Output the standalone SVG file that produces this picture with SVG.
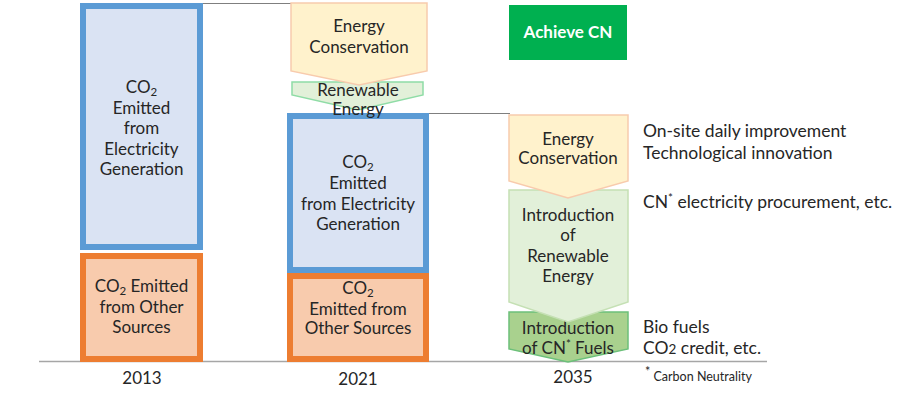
<svg xmlns="http://www.w3.org/2000/svg" width="900" height="398" viewBox="0 0 900 398">
<style>
text{font-family:Lato,"Liberation Sans",sans-serif;fill:#262626;font-size:17px;text-anchor:middle}
.l{text-anchor:start;font-size:17.5px}
.elec{fill:#dae3f3;stroke:#5b9bd5;stroke-width:6}
.oth{fill:#f8cbad;stroke:#ed7d31;stroke-width:6}
.cons{fill:#fff2cc;stroke:#f8cbad;stroke-width:1.5}
.ren{fill:#e2f0d9;stroke:#c5e0b4;stroke-width:1.5}
.ren2{fill:#e2f0d9;stroke:#8fdca6;stroke-width:1.5}
.fuel{fill:#a9d18e;stroke:#6cc07a;stroke-width:1.5}
.guide{stroke:#7f7f7f;stroke-width:1;fill:none}
.sub{font-size:11.5px}
</style>
<g id="connectors">
<line class="guide" x1="203" y1="3.5" x2="292" y2="3.5"/>
<line class="guide" x1="429" y1="113.5" x2="510" y2="113.5"/>
<line x1="39" y1="361.5" x2="767" y2="361.5" stroke="#a6a6a6" stroke-width="1.5"/>
</g>
<g id="bar2013-elec">
<rect class="elec" x="83" y="6" width="117" height="241"/>
<text x="141.5" y="93">CO<tspan class="sub" dy="3">2</tspan></text>
<text x="141.5" y="114">Emitted</text>
<text x="141.5" y="134">from</text>
<text x="141.5" y="155">Electricity</text>
<text x="141.5" y="175">Generation</text>
</g>
<g id="bar2013-other">
<rect class="oth" x="83" y="256" width="117" height="103"/>
<text x="141.5" y="292">CO<tspan class="sub" dy="3">2</tspan><tspan dy="-3"> Emitted</tspan></text>
<text x="141.5" y="313">from Other</text>
<text x="141.5" y="333">Sources</text>
</g>
<g id="label2013"><text x="142" y="384">2013</text></g>
<g id="bar2021-elec">
<rect class="elec" x="290" y="116" width="136" height="154"/>
<text x="358" y="168">CO<tspan class="sub" dy="3">2</tspan></text>
<text x="358" y="189">Emitted</text>
<text x="358" y="210">from Electricity</text>
<text x="358" y="230">Generation</text>
</g>
<g id="bar2021-other">
<rect class="oth" x="290" y="276" width="136" height="83"/>
<text x="358" y="294">CO<tspan class="sub" dy="3">2</tspan></text>
<text x="358" y="315">Emitted from</text>
<text x="358" y="334">Other Sources</text>
</g>
<g id="label2021"><text x="358" y="385">2021</text></g>
<g id="ren2021">
<polygon class="ren2" points="292,82 423,82 423,95 358,110 292,95"/>
<text x="358" y="96">Renewable</text>
<text x="358" y="115">Energy</text>
</g>
<g id="cons2021">
<polygon class="cons" points="291,3 427,3 427,71 359,85 291,71"/>
<text x="359" y="32">Energy</text>
<text x="359" y="53">Conservation</text>
</g>
<g id="achieve">
<rect x="509" y="5" width="118" height="55" fill="#00b050"/>
<text x="568" y="38" style="fill:#fff;font-weight:bold;font-size:17px">Achieve CN</text>
</g>
<g id="fuel2035">
<polygon class="fuel" points="509,312 628,312 628,349 568,362 509,349"/>
<text x="568" y="334">Introduction</text>
<text x="568" y="354">of CN<tspan class="sub" dy="-6">*</tspan><tspan dy="6"> Fuels</tspan></text>
</g>
<g id="ren2035">
<polygon class="ren" points="509,190 628,190 628,302 568,322 509,302"/>
<text x="568" y="221">Introduction</text>
<text x="568" y="241">of</text>
<text x="568" y="262">Renewable</text>
<text x="568" y="282">Energy</text>
</g>
<g id="cons2035">
<polygon class="cons" points="509,115 628,115 628,181 568,198 509,181"/>
<text x="568" y="145">Energy</text>
<text x="568" y="164">Conservation</text>
</g>
<g id="label2035"><text x="573" y="383">2035</text></g>
<g id="notes">
<text class="l" x="643" y="137">On-site daily improvement</text>
<text class="l" x="643" y="159">Technological innovation</text>
<text class="l" x="643" y="208">CN<tspan class="sub" dy="-6">*</tspan><tspan dy="6"> electricity procurement, etc.</tspan></text>
<text class="l" x="643" y="333">Bio fuels</text>
<text class="l" x="643" y="354">CO<tspan style="font-size:13.5px">2</tspan> credit, etc.</text>
<text class="l" x="645" y="381" style="font-size:12.5px"><tspan dy="-5">*</tspan><tspan dy="5"> Carbon Neutrality</tspan></text>
</g>
</svg>
